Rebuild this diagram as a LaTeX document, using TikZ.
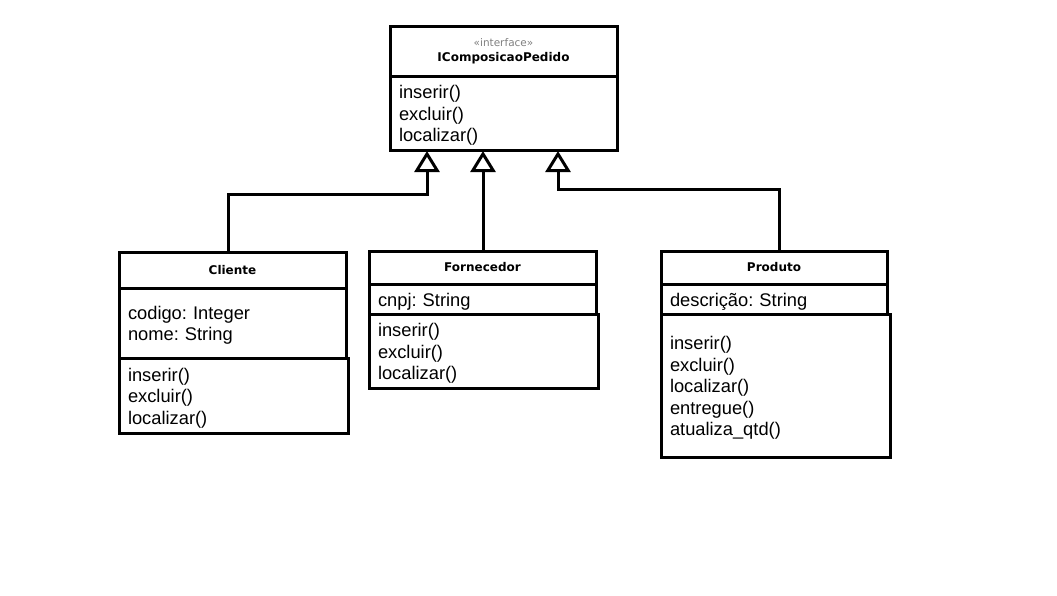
\documentclass[tikz,border=0pt]{standalone}
\usepackage{fontspec}
\setmainfont{Liberation Sans}
\newfontfamily\hdrfont{DejaVu Sans}
\usetikzlibrary{arrows.meta}
\frenchspacing
\tikzset{
  box/.style={draw, line width=3pt, rectangle, inner ysep=0pt, inner xsep=9pt, anchor=center},
  head/.style={box, font={\hdrfont\bfseries\fontsize{12}{15}\selectfont}, align=center},
  comp/.style={box},
  comptext/.style={inner ysep=0pt, inner xsep=9pt, anchor=center, font={\fontsize{18.3}{21.4}\selectfont}, align=left},
  gen/.style={line width=3pt, -{Triangle[open, width=25pt, length=21pt, line width=3pt]}}
}
\newcommand{\compbox}[6]{% name, x, y, w, h, text
  \node[comp, minimum width=#4pt, minimum height=#5pt] (#1) at (#2,#3) {};
  \node[comptext, text width=#4pt-18pt] (#1-t) at ([yshift=-2.5pt]#1.center) {#6};}
\begin{document}
\begin{tikzpicture}[x=1pt,y=-1pt]
\useasboundingbox[fill=white] (0,0) rectangle (1057,595);
% interface
\node[head, minimum width=227pt, minimum height=50pt] (ifHead) at (503.5,51) {{\mdseries\color{gray}\fontsize{10.5}{15}\selectfont «interface»}\\IComposicaoPedido};
\compbox{ifMeth}{503.5}{113}{227}{74}{inserir()\\excluir()\\localizar()}
% Cliente
\node[head, minimum width=227pt, minimum height=36pt] (cliHead) at (232.5,270) {Cliente};
\compbox{cliAttr}{232.5}{323}{227}{70}{codigo: Integer\\nome: String}
\compbox{cliMeth}{233.5}{395.5}{229}{75}{inserir()\\excluir()\\localizar()}
% Fornecedor
\node[head, minimum width=227pt, minimum height=33pt] (fornHead) at (482.5,267.5) {Fornecedor};
\compbox{fornAttr}{482.5}{299}{227}{30}{cnpj: String}
\compbox{fornMeth}{483.5}{351}{229}{74}{inserir()\\excluir()\\localizar()}
% Produto
\node[head, minimum width=226pt, minimum height=33pt] (prodHead) at (774,267.5) {Produto};
\compbox{prodAttr}{774}{299}{226}{30}{descrição: String}
\compbox{prodMeth}{775.5}{385.5}{229}{143}{inserir()\\excluir()\\localizar()\\entregue()\\atualiza\_qtd()}
% generalization targets
\coordinate (t1) at (427,151);
\coordinate (t2) at (483,151);
\coordinate (t3) at (558,151);
\draw[gen] ([xshift=-4.5pt]cliHead.north) -- ++(0,-56) -| (t1);
\draw[gen] (t2 |- fornHead.north) -- (t2);
\draw[gen] ([xshift=5pt]prodHead.north) -- ++(0,-60) -| (t3);
\end{tikzpicture}
\end{document}
